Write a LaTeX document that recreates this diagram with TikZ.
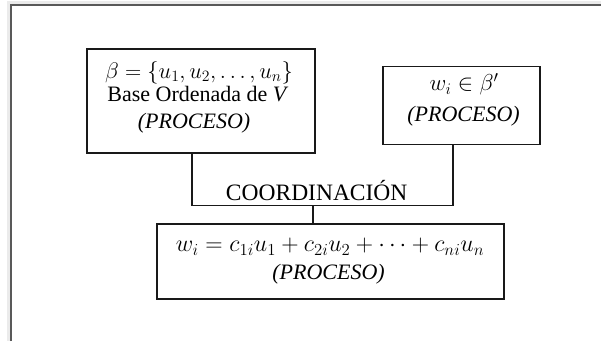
\RequirePackage{fix-cm}
\documentclass[tikz,border=0pt]{standalone}
\usepackage{fontspec}
\setmainfont{Liberation Serif}
\begin{document}
\begin{tikzpicture}[x=1pt,y=-1pt,
  box/.style={draw=black!90,line width=1.4pt,rectangle,inner sep=0pt},
  conn/.style={draw=black!90,line width=1.4pt},
  txt/.style={anchor=base,inner sep=0pt,font=\fontsize{22}{26}\selectfont},
  frame/.style={draw=black!65,line width=1.3pt}]
\useasboundingbox (0,0) rectangle (601,341);
% frame with faint shadow
\draw[black!8,line width=4pt] (9,341) -- (9,3) -- (601,3);
\draw[frame] (11,341) -- (11,5) -- (601,5);
% boxes
\node[box,minimum width=228pt,minimum height=104pt] (b1) at (201,101) {};
\node[box,minimum width=157pt,minimum height=78pt] (b2) at (461.5,105.5) {};
\node[box,minimum width=347pt,minimum height=75pt] (b3) at (330.5,261.5) {};
% texts
\node[txt,font=\fontsize{22.5}{26}\selectfont] (t11) at (199,78) {$\beta=\{u_1,u_2,\dots,u_n\}$};
\node[txt] (t12) at (198,101.7) {Base Ordenada de \textit{V}};
\node[txt] (t13) at (194,128.3) {\textit{(PROCESO)}};
\node[txt,font=\fontsize{23}{26}\selectfont] (t21) at (464,90.7) {$w_i\in\beta'$};
\node[txt] (t22) at (463.5,121.7) {\textit{(PROCESO)}};
\node[txt,font=\fontsize{24}{26}\selectfont] (t31) at (330,251.7) {$w_i=c_{1i}u_1+c_{2i}u_2+\cdots+c_{ni}u_n$};
\node[txt] (t32) at (328.6,279.3) {\textit{(PROCESO)}};
\node[txt,font=\fontsize{23.5}{26}\selectfont] (coord) at (316.7,200) {COORDINACIÓN};
% connectors
\coordinate (j) at (313,205.5);
\draw[conn] ([xshift=-9pt]b1.south) |- (j) -| ([xshift=-8.5pt]b2.south);
\draw[conn] (j) -- (j |- b3.north);
\end{tikzpicture}
\end{document}
